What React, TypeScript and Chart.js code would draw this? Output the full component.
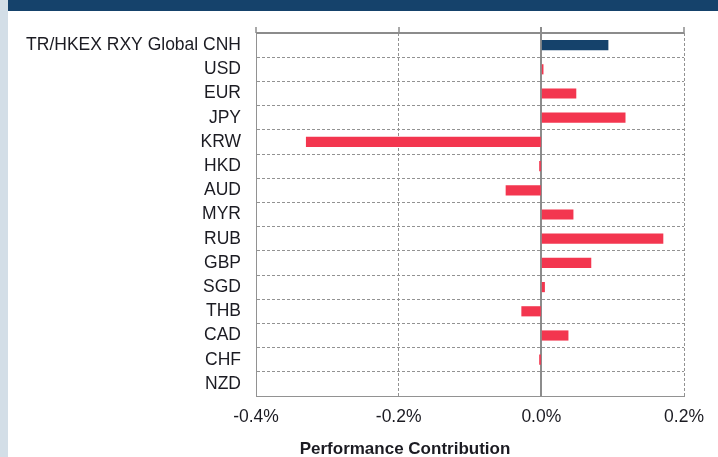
import React, { useEffect, useRef } from "react";
import { Chart, registerables } from "chart.js";

Chart.register(...registerables);

const categories = [
  "TR/HKEX RXY Global CNH",
  "USD",
  "EUR",
  "JPY",
  "KRW",
  "HKD",
  "AUD",
  "MYR",
  "RUB",
  "GBP",
  "SGD",
  "THB",
  "CAD",
  "CHF",
  "NZD",
];
const contributions = [
  0.094, 0.003, 0.049, 0.118, -0.33, -0.003, -0.05, 0.045, 0.171, 0.07, 0.005,
  -0.028, 0.038, -0.003, 0,
];
const xTickValues = [-0.4, -0.2, 0, 0.2];
const axisTitle = "Performance Contribution";

const NAVY = "#15426B";
const RED = "#F3364F";
const GRID = "#929292";
const TEXT = "#1b1b22";
const FONT = "'Liberation Sans', Arial, sans-serif";

const decorPlugin = {
  id: "decor",
  beforeDraw(chart: any) {
    const { ctx, width, height } = chart;
    ctx.save();
    ctx.fillStyle = "#ffffff";
    ctx.fillRect(0, 0, width, height);
    ctx.fillStyle = "#D3DEE7";
    ctx.fillRect(0, 0, 8, height);
    ctx.fillStyle = NAVY;
    ctx.fillRect(8, 0, width - 8, 11);
    ctx.restore();
  },
  beforeDatasetsDraw(chart: any) {
    const { ctx, chartArea, scales } = chart;
    const x = scales.x;
    ctx.save();
    ctx.strokeStyle = "#8c8c8c";
    ctx.lineWidth = 2;
    ctx.setLineDash([]);
    ctx.beginPath();
    ctx.moveTo(chartArea.left, chartArea.top);
    ctx.lineTo(chartArea.right, chartArea.top);
    ctx.stroke();
    const zx = Math.round(x.getPixelForValue(0));
    ctx.beginPath();
    ctx.moveTo(zx, chartArea.top - 6);
    ctx.lineTo(zx, chartArea.bottom);
    ctx.stroke();
    ctx.lineWidth = 1.5;
    xTickValues.forEach((v) => {
      const px = Math.round(x.getPixelForValue(v));
      ctx.beginPath();
      ctx.moveTo(px, chartArea.top - 6);
      ctx.lineTo(px, chartArea.top);
      ctx.stroke();
    });
    ctx.restore();
  },
  afterDraw(chart: any) {
    const { ctx } = chart;
    ctx.save();
    ctx.font = `bold 17px ${FONT}`;
    ctx.fillStyle = TEXT;
    ctx.textAlign = "center";
    ctx.textBaseline = "middle";
    ctx.fillText(axisTitle, 405, 449);
    ctx.restore();
  },
};

export default function App() {
  const ref = useRef<HTMLCanvasElement | null>(null);

  useEffect(() => {
    if (!ref.current) return;
    Chart.defaults.font.family = FONT;
    const chart = new Chart(ref.current, {
      type: "bar",
      data: {
        labels: categories,
        datasets: [
          {
            data: contributions,
            backgroundColor: contributions.map((_, i) => (i === 0 ? NAVY : RED)),
            barPercentage: 0.42,
            categoryPercentage: 1,
            borderWidth: 0,
          },
        ],
      },
      options: {
        indexAxis: "y",
        animation: false,
        responsive: false,
        maintainAspectRatio: false,
        layout: { padding: { top: 33, right: 34, left: 0, bottom: 0 } },
        plugins: {
          legend: { display: false },
          tooltip: { enabled: false },
        },
        scales: {
          x: {
            min: -0.4,
            max: 0.2,
            afterFit(scale: any) {
              scale.height = 61;
            },
            afterBuildTicks(scale: any) {
              scale.ticks = xTickValues.map((v) => ({ value: v }));
            },
            ticks: {
              padding: 11,
              color: TEXT,
              font: { size: 17.5 },
              callback: (v: any) => `${Number(v).toFixed(1)}%`,
            },
            grid: {
              color: (c: any) =>
                c.tick && Math.abs(c.tick.value) < 1e-9 ? "rgba(0,0,0,0)" : GRID,
              lineWidth: 1,
              drawTicks: false,
            },
            border: { display: true, color: GRID, dash: [3, 2], width: 1 },
          },
          y: {
            afterFit(scale: any) {
              scale.width = 256;
            },
            ticks: {
              padding: 15,
              color: TEXT,
              font: { size: 17.5 },
              autoSkip: false,
            },
            grid: {
              color: GRID,
              lineWidth: 1,
              drawTicks: false,
              offset: true,
            },
            border: { display: true, color: GRID, dash: [3, 2], width: 1 },
          },
        },
      },
      plugins: [decorPlugin],
    });
    return () => chart.destroy();
  }, []);

  return (
    <div style={{ position: "fixed", left: 0, top: 0, width: 718, height: 457 }}>
      <canvas ref={ref} width={718} height={457} style={{ width: 718, height: 457, display: "block" }} />
    </div>
  );
}
